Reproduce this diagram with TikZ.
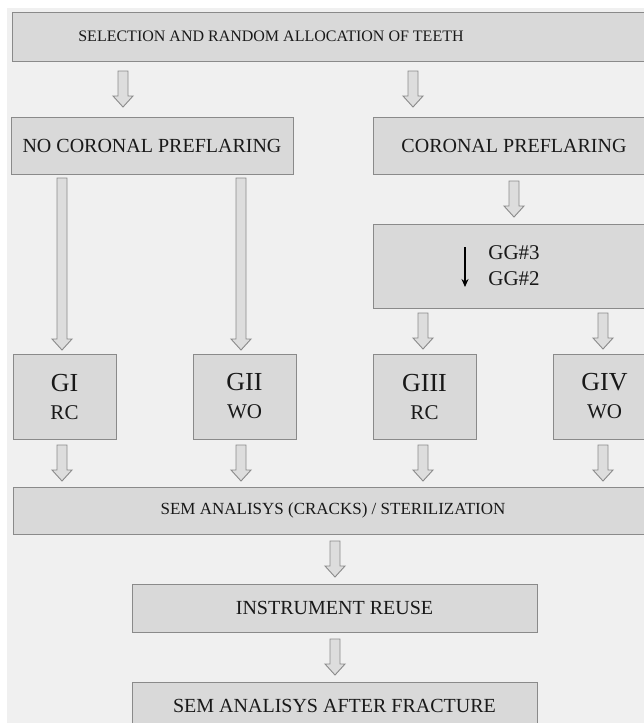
\documentclass[tikz,border=0pt]{standalone}
\usepackage{fontspec}
\setmainfont{Liberation Serif}
\usetikzlibrary{calc, arrows.meta}
\definecolor{bggray}{HTML}{F0F0F0}
\definecolor{boxgray}{HTML}{D9D9D9}
\definecolor{edgegray}{HTML}{8A8A8A}
\definecolor{arrowgray}{HTML}{DDDDDD}

\tikzset{
  box/.style={draw=edgegray, fill=boxgray, line width=1pt, inner sep=0pt, text=black!90, align=center},
  blockarrow/.style={draw=edgegray, fill=arrowgray, line width=0.9pt},
  pics/flowarrow/.style={code={
    \path[blockarrow] (-5,-#1) -- (5,-#1) -- (5,{#1-11}) -- (10,{#1-11}) -- (0,#1)
      -- (-10,{#1-11}) -- (-5,{#1-11}) -- cycle;}},
}
\newcommand{\flow}[4][18]{%
  \path ($(#2.south)!0.5!(#3.north)$) coordinate (m);
  \pic at (#4,0 |- m) {flowarrow=#1};}
\newcommand{\grp}[2]{{\fontsize{26}{28}\selectfont #1}\\#2}

\begin{document}
\begin{tikzpicture}[x=1pt, y=-1pt]
  \useasboundingbox (0,0) rectangle (644,723);
  \fill[white] (0,0) rectangle (644,723);
  \fill[bggray] (7,8) rectangle (644,723);
  \clip (0,0) rectangle (644,723);

  \node[box, minimum width=648, minimum height=49,
    label={[xshift=-65, font=\fontsize{16}{19}\selectfont, text=black!90]center:SELECTION AND RANDOM ALLOCATION OF TEETH}]
    (sel) at (336,36.5) {};

  \node[box, minimum width=282, minimum height=57, font=\fontsize{20}{24}\selectfont]
    (nopre) at (152,145.5) {NO CORONAL PREFLARING};
  \node[box, minimum width=282, minimum height=57, font=\fontsize{20}{24}\selectfont]
    (pre) at (514,145.5) {CORONAL PREFLARING};

  \node[box, minimum width=282, minimum height=84, align=left, font=\fontsize{21}{26}\selectfont]
    (gg) at (514,266) {GG\#3\\GG\#2};
  \draw[line width=1.6pt, -{Stealth[length=8pt, width=7pt]}]
    ($(gg.center)+(-49,-19)$) -- ($(gg.center)+(-49,21)$);

  \node[box, minimum width=103, minimum height=85, font=\fontsize{21}{28}\selectfont]
    (g1) at (64.5,396.5) {\grp{GI}{RC}};
  \node[box, minimum width=103, minimum height=85, font=\fontsize{21}{28}\selectfont]
    (g2) at (244.5,396.5) {\grp{GII}{WO}};
  \node[box, minimum width=103, minimum height=85, font=\fontsize{21}{28}\selectfont]
    (g3) at (424.5,396.5) {\grp{GIII}{RC}};
  \node[box, minimum width=103, minimum height=85, font=\fontsize{21}{28}\selectfont]
    (g4) at (604.5,396.5) {\grp{GIV}{WO}};

  \node[box, minimum width=640, minimum height=47, font=\fontsize{17}{20}\selectfont]
    (sem) at (333,510.5) {SEM ANALISYS (CRACKS) / STERILIZATION};
  \node[box, minimum width=405, minimum height=48, font=\fontsize{20}{24}\selectfont]
    (reuse) at (334.5,608) {INSTRUMENT REUSE};
  \node[box, minimum width=405, minimum height=48, font=\fontsize{20}{24}\selectfont]
    (fract) at (334.5,706) {SEM ANALISYS AFTER FRACTURE};

  \flow{sel}{nopre}{123}
  \flow{sel}{pre}{413}
  \flow[86]{nopre}{g1}{62}
  \flow[86]{nopre}{g2}{241}
  \flow{pre}{gg}{514}
  \flow{gg}{g3}{423}
  \flow{gg}{g4}{603}
  \flow{g1}{sem}{62}
  \flow{g2}{sem}{241}
  \flow{g3}{sem}{423}
  \flow{g4}{sem}{603}
  \flow{sem}{reuse}{335}
  \flow{reuse}{fract}{335}
\end{tikzpicture}
\end{document}
